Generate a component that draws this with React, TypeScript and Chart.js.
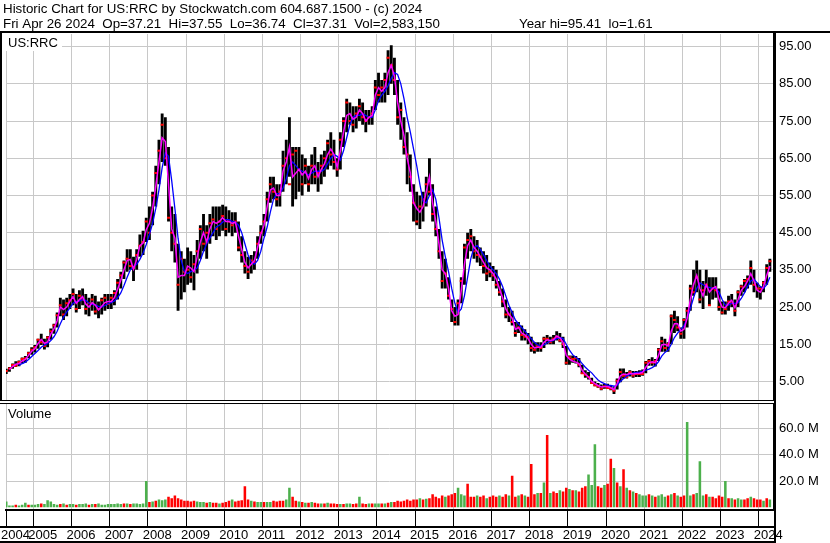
import React, { useEffect, useRef } from 'react';
import { Chart, registerables } from 'chart.js';

Chart.register(...registerables);

// ---- data (monthly, Apr 2004 .. Apr 2024) ----
const START_YEAR = 2004;
const START_MONTH = 3; // April (0-based)

const HIGH = [
  8.4, 8.9, 9.8, 10.4, 10.6, 11.4, 11.8, 13.0, 14.2,
  14.8, 16.5, 17.8, 16.5, 17.2, 19.2, 20.5, 23.5, 27.5, 27.0, 27.5, 28.5,
  30.0, 28.5, 29.5, 30.0, 28.5, 27.5, 28.5, 28.0, 26.5, 27.5, 28.5, 28.5,
  28.5, 29.5, 32.5, 34.5, 37.5, 40.5, 40.5, 38.5, 40.5, 44.5, 45.5, 49.0,
  52.0, 56.0, 63.0, 70.0, 77.0, 76.0, 68.0, 52.0, 50.0, 42.0, 40.0, 38.0,
  41.0, 40.0, 39.0, 43.0, 47.0, 50.0, 47.0, 50.0, 52.0, 52.0, 52.0, 52.5,
  52.0, 51.0, 50.5, 50.5, 48.0, 44.0, 40.0, 38.5, 39.0, 40.0, 44.0, 47.0,
  50.0, 56.0, 60.0, 60.0, 58.0, 58.0, 67.0, 70.0, 76.0, 68.0, 68.0, 68.0,
  66.0, 65.0, 63.0, 66.0, 68.0, 64.0, 66.0, 67.0, 70.0, 72.0, 70.0, 65.0,
  72.0, 76.0, 81.0, 80.0, 79.0, 79.0, 81.0, 80.0, 78.0, 78.0, 79.0, 86.0,
  88.0, 86.0, 88.0, 94.0, 95.4, 92.0, 86.0, 80.0, 76.0, 72.0, 66.0, 58.0,
  56.0, 55.0, 56.0, 60.0, 65.0, 58.0, 52.0, 46.0, 40.0, 38.0, 33.0, 27.0,
  25.0, 27.0, 33.0, 42.0, 45.0, 46.0, 44.0, 43.0, 41.0, 40.0, 39.0, 37.0,
  36.0, 35.0, 32.0, 30.0, 27.0, 25.0, 24.0, 21.0, 21.0, 20.0, 19.0, 18.0,
  17.0, 15.5, 15.5, 15.5, 17.0, 17.5, 17.0, 17.5, 18.5, 18.0, 17.0, 14.5,
  12.0, 12.0, 11.8, 11.3, 9.5, 8.0, 7.5, 6.0, 5.0, 4.6, 4.2, 4.3,
  4.4, 3.8, 3.4, 5.8, 8.5, 8.5, 7.5, 8.0, 7.8, 7.8, 8.0, 8.2,
  10.5, 11.0, 11.5, 11.0, 14.0, 17.0, 16.5, 15.5, 23.0, 24.0, 22.5, 19.5,
  22.0, 25.0, 31.0, 35.0, 37.5, 35.0, 32.0, 35.0, 33.0, 33.0, 33.0, 30.0,
  26.5, 26.5, 28.0, 28.5, 27.0, 29.5, 31.0, 32.5, 33.5, 37.5, 35.0, 31.5,
  30.5, 32.0, 36.5, 38.0,
];

const LOW = [
  7.0, 7.6, 8.4, 8.9, 9.1, 9.8, 10.0, 11.2, 12.2,
  12.8, 13.8, 14.8, 13.6, 14.2, 16.2, 17.8, 19.5, 22.5, 21.5, 22.5, 24.5,
  25.5, 23.5, 24.5, 25.5, 23.0, 22.5, 24.0, 23.0, 22.0, 23.0, 24.0, 24.5,
  24.5, 25.5, 27.0, 30.0, 32.5, 34.5, 35.0, 32.0, 35.0, 38.5, 39.0, 42.5,
  43.0, 47.0, 52.0, 58.0, 64.0, 63.0, 48.0, 40.0, 37.0, 24.0, 27.0, 29.0,
  31.0, 31.5, 29.5, 34.0, 38.0, 40.0, 38.0, 42.0, 44.0, 43.0, 44.0, 45.5,
  44.0, 45.0, 44.0, 45.0, 40.0, 37.0, 34.0, 32.5, 34.0, 35.0, 38.0, 42.0,
  44.0, 48.0, 53.0, 54.0, 52.0, 52.0, 56.0, 58.0, 60.0, 52.0, 54.0, 56.0,
  55.0, 58.0, 56.0, 58.0, 58.0, 56.0, 58.0, 60.0, 62.0, 63.0, 62.0, 60.0,
  62.0, 68.0, 72.0, 74.0, 72.0, 73.0, 75.0, 74.0, 72.0, 74.0, 74.0, 78.0,
  80.0, 80.0, 80.0, 82.0, 85.0, 82.0, 74.0, 70.0, 66.0, 58.0, 56.0, 48.0,
  47.0, 46.0, 48.0, 52.0, 55.0, 48.0, 44.0, 38.0, 30.0, 30.0, 27.0, 21.0,
  20.0, 20.0, 26.0, 31.0, 38.0, 40.0, 38.0, 37.0, 36.0, 34.0, 32.0, 33.0,
  32.0, 30.0, 28.0, 25.0, 22.0, 21.0, 20.0, 17.0, 18.0, 16.0, 16.0, 15.0,
  13.0, 12.5, 13.0, 13.0, 14.0, 15.0, 15.0, 15.0, 16.0, 15.5, 14.0, 9.5,
  9.5, 10.0, 9.8, 8.8, 7.0, 6.0, 5.5, 4.3, 3.7, 3.3, 2.6, 3.0,
  3.0, 2.6, 1.6, 2.8, 4.8, 5.8, 5.8, 6.3, 6.0, 6.2, 6.2, 6.5,
  7.2, 9.2, 9.2, 9.0, 10.5, 13.0, 13.0, 13.0, 15.0, 18.0, 18.5, 16.5,
  16.5, 19.5, 24.0, 28.0, 29.0, 26.0, 24.5, 28.0, 25.5, 27.0, 27.5, 24.0,
  23.0, 23.0, 24.0, 25.0, 22.5, 25.0, 28.0, 29.0, 30.0, 31.0, 29.0, 27.5,
  27.0, 29.0, 31.0, 34.5,
];

// month-end close (red ticks)
const CLOSE = [
  7.8, 8.5, 9.4, 9.2, 10.2, 11.0, 11.2, 12.6, 13.5,
  14.2, 16.2, 15.5, 14.5, 16.8, 18.5, 20.0, 22.8, 25.5, 23.0, 26.0, 26.8,
  28.5, 24.5, 28.0, 27.0, 24.5, 26.0, 27.0, 23.8, 24.5, 26.8, 27.5, 25.8,
  27.5, 28.8, 31.5, 33.5, 37.0, 38.0, 36.0, 35.5, 39.0, 41.5, 42.5, 48.0,
  45.0, 55.0, 61.0, 67.0, 74.0, 65.0, 49.0, 45.0, 42.0, 31.0, 38.0, 34.5,
  35.0, 33.0, 36.5, 40.0, 46.0, 42.0, 45.0, 47.5, 48.5, 46.0, 48.0, 49.5,
  46.0, 48.0, 47.0, 48.0, 41.0, 39.0, 36.0, 34.5, 37.5, 37.0, 42.0, 45.0,
  48.0, 54.0, 58.0, 56.0, 54.0, 56.0, 63.0, 65.0, 58.0, 66.0, 67.0, 62.0,
  58.0, 63.0, 58.0, 63.0, 60.0, 61.0, 63.0, 65.0, 69.0, 66.0, 64.0, 62.0,
  70.0, 75.0, 80.0, 75.0, 74.0, 77.0, 79.0, 76.0, 75.0, 76.0, 77.0, 84.0,
  82.0, 84.0, 86.0, 92.0, 90.0, 86.0, 76.0, 78.0, 68.0, 66.0, 60.0, 53.0,
  48.0, 52.0, 54.0, 58.0, 56.0, 50.0, 46.0, 40.0, 32.0, 34.0, 28.0, 24.5,
  21.0, 26.0, 32.0, 41.0, 43.0, 44.0, 40.0, 39.0, 38.5, 36.0, 34.0, 34.5,
  33.5, 31.0, 29.0, 26.5, 23.0, 23.0, 21.0, 18.0, 19.5, 17.5, 17.0, 17.0,
  14.0, 13.5, 14.5, 14.0, 16.5, 16.5, 15.5, 16.5, 17.0, 16.0, 15.0, 10.0,
  11.5, 11.0, 11.2, 9.5, 7.2, 6.8, 6.2, 4.6, 4.0, 3.6, 3.0, 3.6,
  3.2, 3.0, 2.5, 5.2, 7.5, 6.5, 6.2, 7.5, 6.6, 7.0, 7.0, 7.0,
  10.0, 10.5, 10.0, 10.5, 13.5, 15.8, 14.0, 15.0, 22.5, 21.5, 19.5, 17.8,
  21.5, 24.0, 30.0, 29.0, 33.0, 27.0, 29.5, 31.0, 25.5, 30.0, 29.5, 25.0,
  23.5, 24.5, 26.5, 26.0, 24.0, 29.0, 30.5, 32.0, 32.5, 35.5, 31.0, 30.0,
  30.0, 31.5, 35.5, 37.3,
];

const MA_FAST = [
  null, 8.2, 9.0, 9.6, 9.8, 10.5, 10.9, 12.0, 13.1,
  13.8, 15.2, 16.3, 15.2, 15.6, 17.7, 19.1, 21.3, 25.0, 24.3, 25.0, 26.5,
  27.8, 26.0, 27.0, 27.8, 25.8, 25.0, 26.2, 25.5, 24.2, 25.2, 26.2, 26.5,
  26.5, 27.5, 29.8, 32.2, 35.0, 37.5, 37.8, 35.2, 37.8, 41.5, 42.2, 45.8,
  47.5, 51.5, 57.5, 64.0, 70.5, 69.5, 58.0, 46.0, 43.5, 33.0, 33.5, 33.5,
  36.0, 35.5, 34.5, 38.5, 42.5, 45.0, 42.5, 46.0, 48.0, 47.5, 48.0, 49.0,
  48.0, 48.0, 47.5, 47.8, 44.0, 40.5, 37.0, 35.5, 36.5, 37.5, 41.0, 44.5,
  47.0, 52.0, 56.5, 57.0, 55.0, 55.0, 61.5, 64.0, 68.0, 60.0, 61.0, 62.0,
  60.5, 61.5, 59.5, 62.0, 63.0, 60.0, 62.0, 63.5, 66.0, 67.5, 66.0, 62.5,
  67.0, 72.0, 76.5, 77.0, 75.5, 76.0, 78.0, 77.0, 75.0, 76.0, 76.5, 82.0,
  84.0, 83.0, 84.0, 88.0, 90.0, 87.0, 80.0, 75.0, 71.0, 65.0, 61.0, 53.0,
  51.5, 50.5, 52.0, 56.0, 60.0, 53.0, 48.0, 42.0, 35.0, 34.0, 30.0, 24.0,
  22.5, 23.0, 29.5, 36.5, 41.5, 43.0, 41.0, 40.0, 38.5, 37.0, 35.5, 35.0,
  34.0, 32.5, 30.0, 27.5, 24.5, 23.0, 22.0, 19.0, 19.5, 18.0, 17.5, 16.5,
  15.0, 14.0, 14.2, 14.2, 15.5, 16.2, 16.0, 16.2, 17.2, 16.7, 15.5, 12.0,
  11.0, 10.5, 10.2, 9.8, 8.0, 7.0, 6.2, 5.0, 4.4, 3.9, 3.5, 3.6,
  3.6, 3.3, 2.8, 4.5, 6.5, 7.0, 6.8, 7.2, 7.0, 7.1, 7.2, 7.4,
  8.8, 10.0, 10.3, 10.0, 12.0, 14.8, 15.0, 14.5, 18.5, 20.5, 20.5, 18.5,
  19.0, 22.0, 27.0, 31.0, 33.5, 30.0, 28.0, 31.0, 29.0, 30.0, 30.5, 27.0,
  25.0, 24.8, 26.0, 26.8, 24.8, 27.0, 29.5, 30.5, 32.0, 34.0, 32.0, 29.5,
  29.0, 30.5, 33.5, 36.0,
];

const MA_SLOW = [
  null, null, null, null, 9.3, 9.8, 10.2, 10.9, 11.7,
  12.5, 13.3, 14.2, 14.8, 15.2, 16.0, 17.0, 18.5, 20.5, 22.3, 23.6, 24.8,
  26.0, 26.5, 26.6, 27.0, 26.8, 26.0, 25.7, 25.6, 25.2, 25.0, 25.4, 25.9,
  26.2, 26.6, 27.5, 28.8, 30.8, 33.0, 35.0, 35.8, 36.5, 37.8, 39.5, 41.8,
  44.5, 47.5, 51.5, 56.5, 62.5, 66.5, 65.5, 59.0, 51.5, 43.5, 37.5, 34.5,
  34.0, 34.5, 35.0, 35.5, 37.5, 40.0, 42.0, 43.5, 45.0, 46.5, 47.0, 47.8,
  48.5, 48.5, 48.0, 47.8, 47.0, 45.0, 42.0, 39.0, 37.0, 36.5, 37.5, 40.0,
  43.5, 46.5, 50.5, 54.0, 55.5, 55.5, 57.0, 59.5, 63.0, 64.0, 63.0, 62.0,
  61.5, 61.0, 60.5, 61.0, 61.5, 61.5, 61.5, 62.0, 63.5, 65.0, 66.0, 65.5,
  64.5, 67.0, 70.5, 74.0, 76.0, 76.5, 76.5, 77.0, 76.5, 76.0, 76.0, 78.0,
  80.5, 82.0, 83.0, 84.5, 86.5, 88.0, 87.5, 85.0, 81.0, 76.0, 72.0, 67.5,
  63.0, 58.0, 53.5, 53.0, 55.0, 56.5, 54.0, 49.0, 43.0, 38.5, 34.5, 30.0,
  26.0, 23.5, 24.5, 28.0, 33.0, 38.0, 41.0, 41.5, 40.5, 39.0, 37.5, 36.0,
  35.0, 34.0, 32.5, 30.5, 28.0, 25.5, 23.5, 21.5, 20.5, 19.5, 18.5, 17.5,
  16.5, 15.5, 14.8, 14.5, 14.8, 15.4, 15.8, 16.0, 16.5, 16.8, 16.5, 15.0,
  13.4, 12.2, 11.5, 10.8, 9.8, 8.8, 8.0, 7.3, 6.3, 5.4, 4.8, 4.4,
  4.0, 3.9, 3.7, 4.0, 5.0, 5.8, 6.4, 6.9, 7.2, 7.4, 7.5, 7.7,
  8.0, 8.3, 8.7, 9.3, 10.3, 11.8, 12.8, 13.4, 15.0, 16.8, 18.0, 19.0,
  20.0, 22.0, 24.5, 27.5, 30.0, 31.5, 31.0, 30.5, 30.3, 30.0, 30.0, 29.0,
  27.0, 25.5, 25.5, 26.0, 26.0, 26.2, 27.3, 28.8, 30.5, 32.0, 32.5, 31.5,
  30.5, 30.0, 31.0, 33.0,
];

// volume in millions of shares
const VOLUME = [
  4.5, 1.5, 1.5, 2.0, 1.5, 2.0, 3.5, 2.0, 2.0,
  2.0, 2.5, 3.0, 2.5, 5.5, 4.5, 2.5, 2.0, 2.5, 3.0, 2.0, 2.5,
  2.5, 2.0, 2.5, 2.5, 3.0, 2.0, 2.5, 2.5, 3.0, 2.0, 2.0, 2.5,
  2.5, 2.5, 3.0, 2.5, 3.0, 3.0, 2.5, 3.0, 3.0, 2.5, 3.0, 20.0,
  4.0, 4.5, 5.0, 6.0, 5.5, 6.0, 8.0, 7.0, 9.0, 7.0, 6.0, 5.0,
  5.0, 4.5, 5.0, 4.5, 4.0, 4.0, 3.5, 4.0, 3.5, 3.5, 3.0, 3.5,
  4.0, 5.0, 6.0, 4.5, 5.0, 5.5, 16.0, 6.0, 5.0, 4.5, 4.0, 4.0,
  4.0, 4.0, 4.0, 5.0, 4.5, 5.0, 5.0, 6.0, 15.0, 8.0, 5.0, 4.5,
  4.0, 3.5, 3.5, 4.0, 3.5, 3.0, 3.0, 3.0, 3.5, 3.0, 3.0, 2.5,
  2.5, 2.5, 3.0, 3.0, 2.5, 3.0, 8.0, 3.0, 2.5, 3.0, 3.0, 3.0,
  3.0, 3.0, 3.0, 3.5, 4.0, 4.0, 5.0, 4.5, 5.0, 6.0, 5.0, 6.0,
  6.0, 7.0, 6.0, 6.5, 7.0, 10.0, 8.0, 7.0, 9.0, 8.0, 9.0, 10.0,
  11.0, 15.0, 10.0, 9.0, 18.0, 8.0, 8.0, 9.0, 8.0, 9.0, 7.0, 8.0,
  9.0, 8.0, 9.0, 8.0, 10.0, 9.0, 24.0, 8.0, 9.0, 10.0, 9.0, 8.0,
  33.0, 10.0, 11.0, 11.0, 19.0, 55.0, 11.0, 12.0, 11.0, 13.0, 12.0, 15.0,
  14.0, 13.0, 13.0, 12.0, 15.0, 16.0, 25.0, 17.0, 48.0, 16.0, 15.0, 17.0,
  18.0, 37.0, 30.0, 19.0, 16.0, 29.0, 15.0, 13.0, 12.0, 11.0, 10.0, 9.0,
  9.0, 10.0, 9.0, 8.0, 9.0, 10.0, 8.0, 9.0, 10.0, 11.0, 9.0, 8.0,
  9.0, 65.0, 9.0, 10.0, 11.0, 35.0, 9.0, 10.0, 8.0, 8.0, 7.0, 9.0,
  8.0, 20.0, 7.0, 7.0, 6.0, 7.0, 6.0, 6.0, 7.0, 8.0, 7.0, 6.0,
  6.0, 5.0, 7.0, 6.0,
];

// g = up (green) volume bar, r = down (red)
const VOL_DIR = [
  'gggrgggrg',
  'ggrgggggrgrg', 'grgggrgrgggg', 'ggggrgrggggg', 'rgrgggrrrrrr',
  'rrrgggrgrrgr', 'rrgrrrrrgrgg', 'rggrrrrggrrg', 'rgrgrrgrgrrr',
  'grggrrgrrgrg', 'grgrgrrrrrrr', 'rgrgrrrrrgrr', 'rgggrrrgrrgr',
  'rrgrrgrrgrgr', 'rrgrgrgrrgrr', 'grgrrrgggrrg', 'rrgrgrgrgrgg',
  'grgrgggrgrgr', 'rggrgggrgrrr', 'rgrgrggrrgrr',
  'rgrg',
].join('').split('');

const YEAR_LABELS = ['2004', '2005', '2006', '2007', '2008', '2009', '2010', '2011', '2012', '2013',
  '2014', '2015', '2016', '2017', '2018', '2019', '2020', '2021', '2022', '2023', '2024'];
const PRICE_TICKS = [5, 10, 15, 20, 25, 30, 35, 40, 45, 50, 55, 60, 65, 70, 75, 80, 85, 90, 95];
const VOLUME_TICKS = [20, 40, 60];

const HEADER_1 = 'Historic Chart for US:RRC by Stockwatch.com 604.687.1500 - (c) 2024';
const HEADER_2 = 'Fri Apr 26 2024  Op=37.21  Hi=37.55  Lo=36.74  Cl=37.31  Vol=2,583,150';
const HEADER_3 = 'Year hi=95.41  lo=1.61';
const SYMBOL = 'US:RRC';
const VOLUME_TITLE = 'Volume';

const X_MIN = 2004.2853;
const X_MAX = 2024.3993;

const FONT = '"Liberation Sans", Arial, sans-serif';
const GREEN = '#4cb04c';
const RED = '#ff0000';
const GRID = '#c8c8c8';

const framePlugin = {
  id: 'frame',
  afterDraw(chart: any) {
    const ctx = chart.ctx;
    const area = chart.chartArea;
    const right = area.right;
    ctx.save();
    ctx.fillStyle = '#000';
    ctx.font = '13.33px ' + FONT;
    ctx.textBaseline = 'alphabetic';
    ctx.textAlign = 'left';
    ctx.fillText(HEADER_1, 3, 13);
    ctx.fillText(HEADER_2, 3, 28);
    ctx.fillText(HEADER_3, 519, 28);
    ctx.font = '13px ' + FONT;
    // header separator
    ctx.fillRect(0, 31, chart.width, 2);
    // left border of price pane
    ctx.fillRect(0, 33, 2, 367);
    // pane separator (double line)
    const yPrice0 = chart.scales.y.getPixelForValue(0);
    ctx.fillStyle = '#fff';
    ctx.fillRect(0, yPrice0, right, 3);
    ctx.fillStyle = '#000';
    ctx.fillRect(0, yPrice0, right, 1);
    ctx.fillRect(0, yPrice0 + 3, right, 1);
    // axis band lines
    ctx.fillRect(0, area.bottom + 16, right + 2, 2);
    ctx.fillRect(0, chart.height - 2, right + 2, 2);
    // right axis line
    ctx.fillRect(right, 33, 2, chart.height - 33);
    // symbol label
    ctx.fillStyle = '#fff';
    ctx.fillRect(2, 34, 60, 17);
    ctx.fillStyle = '#000';
    ctx.fillText(SYMBOL, 8, 47);
    ctx.fillText(VOLUME_TITLE, 8, 418);
    ctx.restore();
  },
};

export default function App() {
  const ref = useRef<HTMLCanvasElement>(null);
  useEffect(() => {
    document.body.style.margin = '0';
    const xs = HIGH.map((_, i) => START_YEAR + (START_MONTH + i + 0.5) / 12);
    const priceBars = xs.map((x, i) => ({ x, y: [LOW[i], HIGH[i]] }));
    const volBars = xs.map((x, i) => ({ x, y: VOLUME[i] }));
    const volColors = VOL_DIR.map((d) => (d === 'g' ? GREEN : RED));
    const closes = xs.map((x, i) => ({ x, y: CLOSE[i] }));
    const fast = xs.map((x, i) => ({ x, y: MA_FAST[i] }));
    const slow = xs.map((x, i) => ({ x, y: MA_SLOW[i] }));
    const yearTicks = YEAR_LABELS.map((l, i) => (i === 0 ? X_MIN : Number(l)));

    const chart = new Chart(ref.current as HTMLCanvasElement, {
      type: 'bar',
      data: {
        datasets: [
          { type: 'line', data: fast, yAxisID: 'y', borderColor: '#ff00ff', borderWidth: 1.5, pointRadius: 0, order: 0 } as any,
          { type: 'line', data: slow, yAxisID: 'y', borderColor: '#0000ff', borderWidth: 1.3, pointRadius: 0, order: 1 } as any,
          { type: 'line', data: closes, yAxisID: 'y', showLine: false, pointStyle: 'line', pointRadius: 1.5, pointBorderWidth: 2, pointBorderColor: RED, pointBackgroundColor: RED, order: 2 } as any,
          { type: 'bar', data: priceBars, yAxisID: 'y', backgroundColor: '#000', grouped: false, barPercentage: 0.9, categoryPercentage: 1, order: 3 } as any,
          { type: 'bar', data: volBars, yAxisID: 'y2', backgroundColor: volColors, grouped: false, barPercentage: 0.8, categoryPercentage: 1, order: 4 } as any,
        ],
      },
      options: {
        animation: false,
        responsive: false,
        maintainAspectRatio: false,
        layout: { padding: { top: 34, bottom: 1, left: 0, right: 0 } },
        plugins: { legend: { display: false }, tooltip: { enabled: false }, title: { display: false } },
        scales: {
          x: {
            type: 'linear',
            min: X_MIN,
            max: X_MAX,
            offset: false,
            position: 'bottom',
            afterBuildTicks: (s: any) => { s.ticks = yearTicks.map((v) => ({ value: v })); },
            afterFit: (s: any) => { s.height = 32; },
            grid: { offset: false, color: GRID, tickColor: '#000', tickLength: 16, lineWidth: 1, drawTicks: true },
            border: { display: true, color: '#000', width: 2 },
            ticks: {
              autoSkip: false, maxRotation: 0, minRotation: 0, align: 'start', padding: 2, labelOffset: -5,
              color: '#000', font: { family: FONT, size: 13 },
              callback: (_v: any, i: number) => YEAR_LABELS[i],
            },
          },
          y: {
            type: 'linear',
            position: 'right',
            stack: 'panes',
            stackWeight: 367.5,
            min: -0.4,
            max: 98.4,
            afterBuildTicks: (s: any) => { s.ticks = PRICE_TICKS.map((v) => ({ value: v })); },
            afterFit: (s: any) => { s.width = 56; },
            grid: { color: GRID, drawTicks: false },
            border: { display: true, color: '#000', width: 2 },
            ticks: { padding: 5, color: '#000', font: { family: FONT, size: 13 }, callback: (v: any) => Number(v).toFixed(2) },
          },
          y2: {
            type: 'linear',
            position: 'right',
            stack: 'panes',
            stackWeight: 108.5,
            min: -2,
            max: 80.5,
            afterBuildTicks: (s: any) => { s.ticks = VOLUME_TICKS.map((v) => ({ value: v })); },
            afterFit: (s: any) => { s.width = 56; },
            grid: { color: GRID, drawTicks: false },
            border: { display: true, color: '#000', width: 2 },
            ticks: { padding: 5, color: '#000', font: { family: FONT, size: 13 }, callback: (v: any) => Number(v).toFixed(1) + ' M' },
          },
        },
      } as any,
      plugins: [framePlugin],
    });
    return () => chart.destroy();
  }, []);
  return <canvas ref={ref} width={830} height={543} style={{ display: 'block' }} />;
}
